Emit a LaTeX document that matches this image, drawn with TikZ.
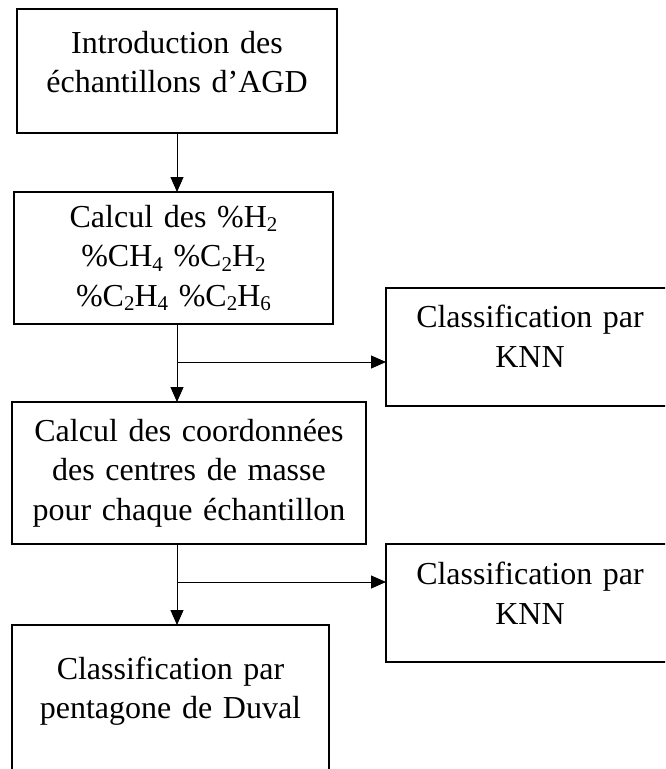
\documentclass[tikz,border=0pt]{standalone}
\usepackage{fontspec}
\setmainfont{Liberation Serif}
\usetikzlibrary{positioning, arrows.meta}

\newcommand{\bottomgap}[1]{\par\vspace{#1}\hrule height 0pt}
\newcommand{\chemsub}[1]{\raisebox{-0.15em}{\fontsize{21}{21}\selectfont #1}}

\begin{document}
\begin{tikzpicture}[x=1pt, y=-1pt]
		\tikzstyle{stage}=[rectangle, draw, line width=2.5pt, outer sep=0pt, inner xsep=2pt, inner ysep=0pt, align=center, font=\fontsize{32}{39.5}\selectfont]
		\tikzstyle{link}=[line width=1pt, -{Triangle[length=15pt, width=13pt]}]

		\useasboundingbox (0,0) rectangle (665,769);
		\clip (0,0) rectangle (665,769);

		\node[stage, text width=316pt, minimum height=124pt] (intro) at (177,71) {
			Introduction des\\ échantillons d’AGD\bottomgap{18pt}
		};

		\node[stage, text width=315pt, minimum height=132pt, below=59pt of intro, xshift=-3.5pt] (calc) {
			Calcul des \%H\chemsub{2}\\
			\%CH\chemsub{4} \%C\chemsub{2}H\chemsub{2}\\
			\%C\chemsub{2}H\chemsub{4} \%C\chemsub{2}H\chemsub{6}
		};

		\node[stage, text width=350pt, minimum height=142pt, below=78pt of calc, xshift=15.5pt] (coord) {
			Calcul des coordonnées\\ des centres de masse\\ pour chaque échantillon
		};

		\node[stage, text width=313pt, minimum height=172pt, below=81pt of coord, xshift=-18.5pt] (duval) {
			Classification par\\ pentagone de Duval\bottomgap{40pt}
		};

		\node[stage, text width=284pt, minimum height=118pt, below right=-36pt and 53pt of calc.south east] (knnA) {
			Classification par\\ KNN\bottomgap{22pt}
		};

		\node[stage, text width=284pt, minimum height=118pt, below=138pt of knnA] (knnB) {
			Classification par\\ KNN\bottomgap{20pt}
		};

		\coordinate[below=38pt of calc.south] (splitA);
		\coordinate[below=38pt of coord.south] (splitB);

		\draw[link] (intro.south) -- (intro.south |- calc.north);
		\draw[link] (intro.south |- calc.south) -- (intro.south |- coord.north);
		\draw[link] (splitA -| intro.south) -- (splitA -| knnA.west);
		\draw[link] (intro.south |- coord.south) -- (intro.south |- duval.north);
		\draw[link] (splitB -| intro.south) -- (splitB -| knnB.west);

	\end{tikzpicture}
\end{document}
